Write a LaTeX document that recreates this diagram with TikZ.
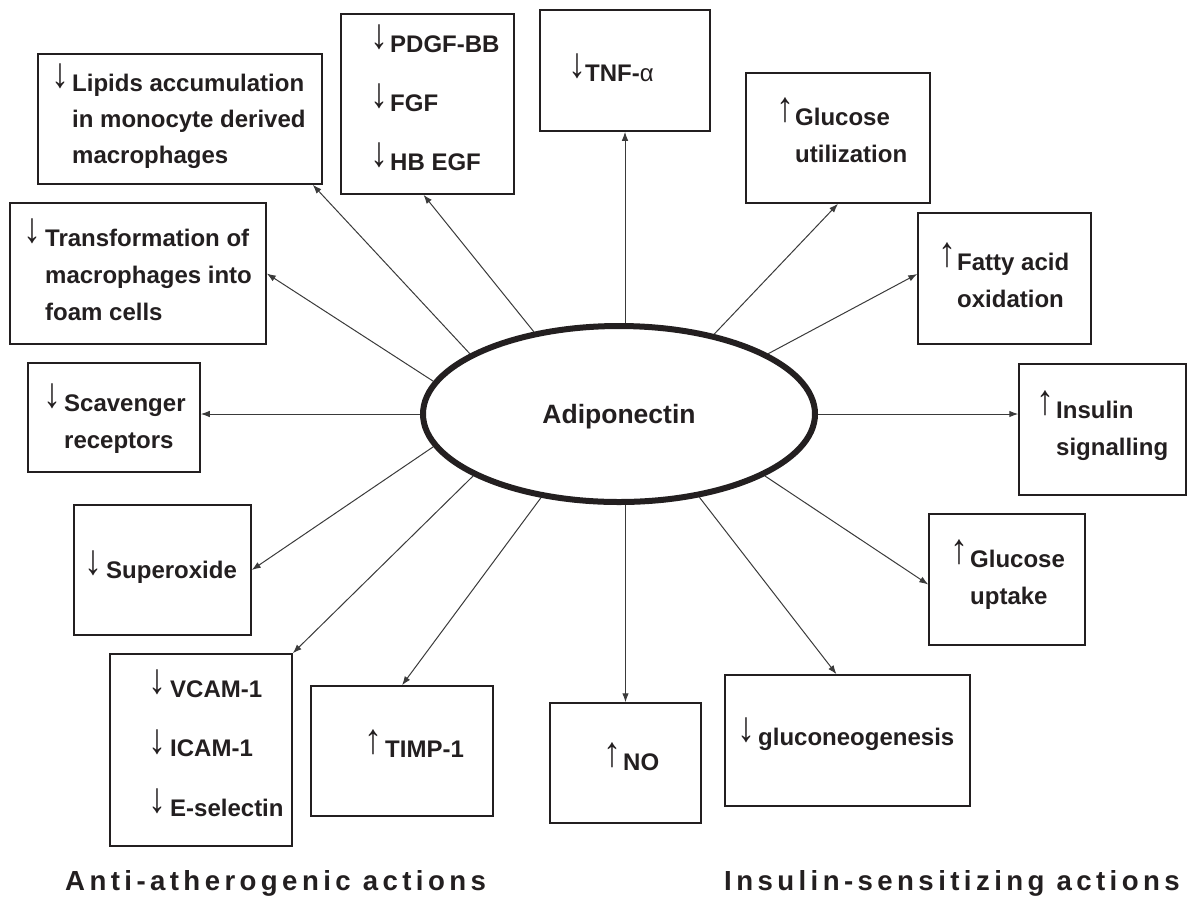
\documentclass[tikz,border=0pt]{standalone}
\usepackage{fontspec}
\usepackage{graphicx}
\setmainfont{Liberation Sans}
\usetikzlibrary{shapes.geometric,arrows.meta,calc}
\definecolor{ink}{HTML}{231F20}
\definecolor{wire}{HTML}{3A3A3A}
\newcommand\tallglyph[1]{\raisebox{2pt}{\scalebox{0.85}[1]{\resizebox*{!}{25pt}{\raisebox{\depth}{#1}}}}}
\newcommand\dnar[1][24pt]{\llap{\makebox[#1][c]{\tallglyph{↓}}}}
\newcommand\upar[1][24pt]{\llap{\makebox[#1][c]{\tallglyph{↑}}}}
\newcommand\Ln[1]{\hbox{#1}}
\newcommand\Stack[2]{\vtop{\baselineskip=#1\lineskiplimit=-100pt #2}}
\begin{document}
\begin{tikzpicture}[x=1pt,y=-1pt,
  box/.style={draw=ink, line width=1.5pt, rectangle, inner sep=0, fill=white},
  txt/.style={anchor=base west, inner sep=0, text=ink, font=\bfseries\fontsize{24}{36}\selectfont},
  link/.style={draw=wire, line width=1pt, -{Latex[length=9pt,width=6.5pt]}},
  hub/.style={ellipse, draw=ink, line width=6pt, fill=white, minimum width=392pt, minimum height=176pt, inner sep=0, text=ink, text height=19pt, text depth=-2pt, font=\bfseries\fontsize{26.5}{30}\selectfont},
  group/.style={anchor=base west, inner sep=0, text=ink, font=\bfseries\fontsize{27.6}{30}\selectfont\addfontfeatures{LetterSpace=16}}]
\useasboundingbox (0,0) rectangle (1190,898);

% boxes
\node[box, minimum width=284pt, minimum height=130pt] (lipids) at (180,119) {};
\node[box, minimum width=173pt, minimum height=180pt] (pdgf) at (427.5,104) {};
\node[box, minimum width=170pt, minimum height=121pt] (tnf) at (625,70.5) {};
\node[box, minimum width=184pt, minimum height=130pt] (util) at (838,138) {};
\node[box, minimum width=173pt, minimum height=131pt] (fat) at (1004.5,278.5) {};
\node[box, minimum width=167pt, minimum height=131pt] (ins) at (1102.5,429.5) {};
\node[box, minimum width=156pt, minimum height=131pt] (upt) at (1007,579.5) {};
\node[box, minimum width=245pt, minimum height=131pt] (gluco) at (847.5,740.5) {};
\node[box, minimum width=151pt, minimum height=120pt] (no) at (625.5,763) {};
\node[box, minimum width=182pt, minimum height=130pt] (timp) at (402,751) {};
\node[box, minimum width=182pt, minimum height=192pt] (vcam) at (201,750) {};
\node[box, minimum width=177pt, minimum height=130pt] (sup) at (162.5,570) {};
\node[box, minimum width=172pt, minimum height=109pt] (scav) at (114,417.5) {};
\node[box, minimum width=256pt, minimum height=141pt] (trans) at (138,273.5) {};

% texts
\node[txt] (lipidsT) at (72,91) {\Stack{36pt}{\Ln{\dnar Lipids accumulation}\Ln{in monocyte derived}\Ln{macrophages}}};
\node[txt] (pdgfT) at (390,52) {\Stack{59pt}{\Ln{\dnar[22pt]PDGF-BB}\Ln{\dnar[22pt]FGF}\Ln{\dnar[22pt]HB EGF}}};
\node[txt] (tnfT) at (585,81) {\dnar[16pt]TNF-{\mdseries α}};
\node[txt] (utilT) at (795,125) {\Stack{37pt}{\Ln{\upar[20pt]Glucose}\Ln{utilization}}};
\node[txt] (fatT) at (957,270) {\Stack{37pt}{\Ln{\upar[19pt]Fatty acid}\Ln{oxidation}}};
\node[txt] (insT) at (1056,418) {\Stack{37pt}{\Ln{\upar[22pt]Insulin}\Ln{signalling}}};
\node[txt] (uptT) at (970,567) {\Stack{37pt}{\Ln{\upar[22pt]Glucose}\Ln{uptake}}};
\node[txt] (glucoT) at (758,745) {\dnar[23pt]gluconeogenesis};
\node[txt] (noT) at (623,770) {\upar[22pt]NO};
\node[txt] (timpT) at (385,757) {\upar[23pt]TIMP-1};
\node[txt] (vcamT) at (170,697) {\Stack{59.5pt}{\Ln{\dnar[25pt]VCAM-1}\Ln{\dnar[25pt]ICAM-1}\Ln{\dnar[25pt]E-selectin}}};
\node[txt] (supT) at (106,578) {\dnar[25pt]Superoxide};
\node[txt] (scavT) at (64,411) {\Stack{37pt}{\Ln{\dnar[24pt]Scavenger}\Ln{receptors}}};
\node[txt] (transT) at (45,246) {\Stack{37pt}{\Ln{\dnar[25pt]Transformation of}\Ln{macrophages into}\Ln{foam cells}}};

% hub
\node[hub] (adipo) at (619,414) {Adiponectin};

% connectors
\draw[link] (adipo.136) -- ([xshift=-4pt]pdgf.south);
\draw[link] (adipo.158) -- ([xshift=-10pt]lipids.south east);
\draw[link] (adipo.170) -- (trans.east);
\draw[link] (adipo.west) -- (adipo.west -| scav.east);
\draw[link] (adipo.190) -- (sup.east);
\draw[link] (adipo.203) -- (vcam.north east);
\draw[link] (adipo.227) -- (timp.north);
\draw[link] (adipo.south -| no.north) -- (no.north);
\draw[link] (adipo.314) -- ([xshift=-11pt]gluco.north);
\draw[link] (adipo.337) -- ([yshift=-5pt]upt.west);
\draw[link] (adipo.east) -- (adipo.east -| ins.west);
\draw[link] (adipo.22) -- ([yshift=4.5pt]fat.west);
\draw[link] (adipo.40) -- (util.south);
\draw[link] (adipo.north -| tnf.south) -- (tnf.south);

% group labels
\node[group] (antiL) at (65,890) {Anti-atherogenic actions};
\node[group] (insL) at (724,890) {Insulin-sensitizing actions};
\end{tikzpicture}
\end{document}
